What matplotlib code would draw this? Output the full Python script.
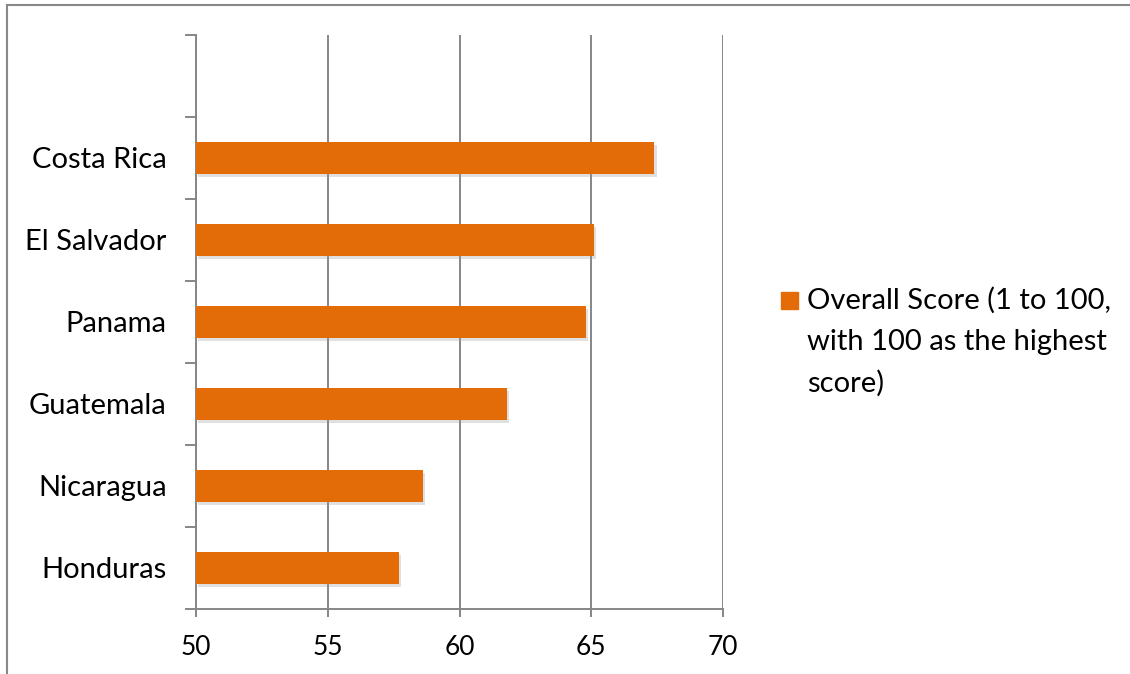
import matplotlib.pyplot as plt
import matplotlib.patheffects as pe
from matplotlib.patches import Rectangle
from matplotlib.lines import Line2D

plt.rcParams['font.family'] = ['Lato', 'DejaVu Sans']

# data, bottom to top
countries = ['Honduras', 'Nicaragua', 'Guatemala', 'Panama', 'El Salvador', 'Costa Rica']
scores = [57.7, 58.6, 61.8, 64.8, 65.1, 67.4]
legend_label = 'Overall Score (1 to 100,\nwith 100 as the highest\nscore)'

bar_color = '#E36C09'
grid_color = '#868686'

fig = plt.figure(figsize=(11.3, 6.74), dpi=100)
ax = fig.add_axes([196 / 1130, 1 - 609 / 674, 527 / 1130, 574 / 674])

ypos = list(range(len(countries)))
bars = ax.barh(ypos, [s - 50 for s in scores], left=50, height=0.39,
               color=bar_color, zorder=3)
for b in bars:
    b.set_path_effects([pe.SimplePatchShadow(offset=(1.5, -2.5), shadow_rgbFace='#999999', alpha=0.3),
                        pe.Normal()])

ax.set_xlim(50, 70)
ax.set_ylim(-0.5, len(countries) + 0.5)
ax.set_xticks([50, 55, 60, 65, 70])
ax.set_yticks(ypos)
ax.set_yticklabels(countries)
ax.set_yticks([i - 0.5 for i in range(len(countries) + 2)], minor=True)

ax.grid(axis='x', color=grid_color, linewidth=1.4, zorder=0)
ax.tick_params(axis='y', which='major', length=0, pad=21, labelsize=21)
ax.tick_params(axis='y', which='minor', length=8, width=1.4, color=grid_color)
ax.tick_params(axis='x', length=6, width=1.4, color=grid_color, labelsize=19, pad=13)

for side in ['top', 'right']:
    ax.spines[side].set_visible(False)
for side in ['left', 'bottom']:
    ax.spines[side].set_color(grid_color)
    ax.spines[side].set_linewidth(1.4)

# legend drawn by hand
fig.patches.append(Rectangle((781 / 1130, 1 - 309 / 674), 17 / 1130, 17 / 674,
                             transform=fig.transFigure, color=bar_color))
fig.text(807 / 1130, 1 - 287 / 674, legend_label, fontsize=21, va='top', ha='left',
         linespacing=1.7)

# outer frame (top and left only visible)
fig.lines.append(Line2D([7 / 1130, 1], [1 - 5 / 674, 1 - 5 / 674], transform=fig.transFigure,
                        color='#888888', linewidth=1.5))
fig.lines.append(Line2D([7 / 1130, 7 / 1130], [0, 1 - 5 / 674], transform=fig.transFigure,
                        color='#888888', linewidth=1.5))

fig.savefig('out.png', dpi=100)
